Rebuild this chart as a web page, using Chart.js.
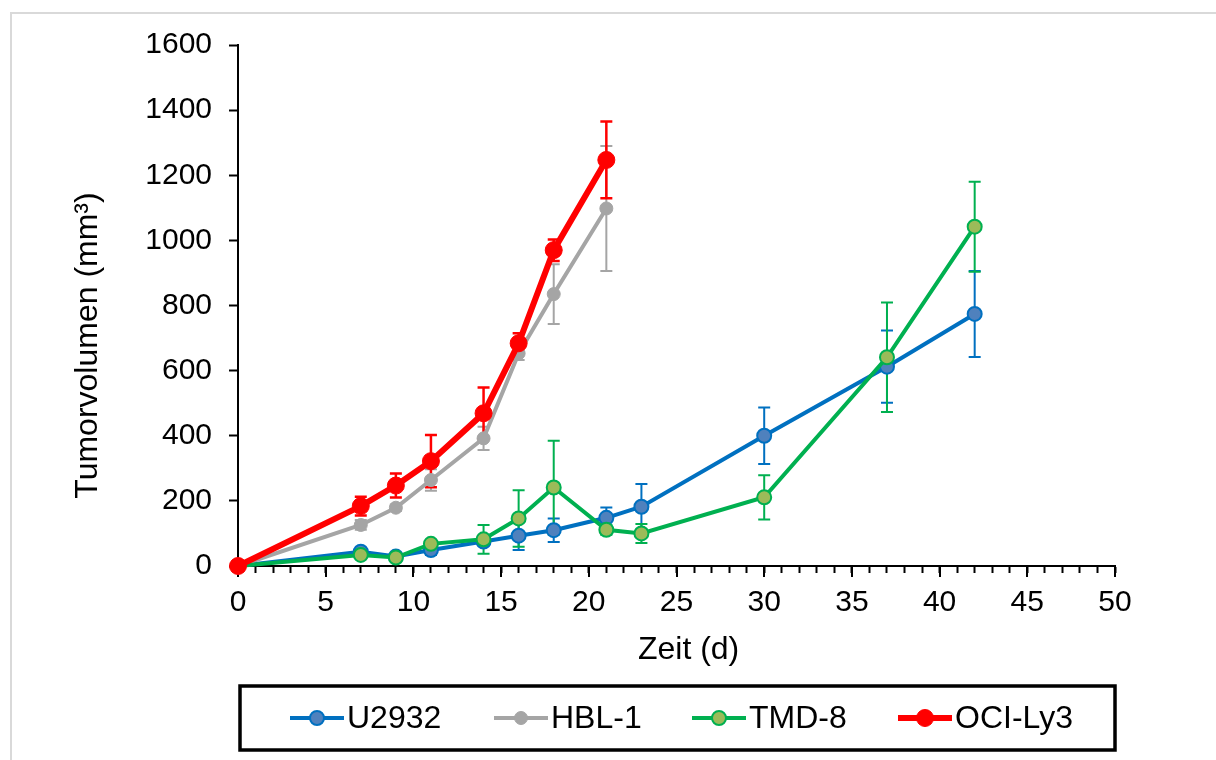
<!DOCTYPE html>
<html>
<head>
<meta charset="utf-8">
<script src="https://cdn.jsdelivr.net/npm/chart.js@4/dist/chart.umd.min.js"></script>
<style>
  html, body { margin: 0; padding: 0; background: #fff; }
  #wrap { position: relative; width: 1216px; height: 760px; overflow: hidden; }
  #frame { position: absolute; left: 10px; top: 12px; width: 1300px; height: 900px; border-left: 2px solid #d9d9d9; border-top: 2px solid #d9d9d9; }
  canvas { position: absolute; left: 0; top: 0; }
</style>
</head>
<body>
<div id="wrap">
  <div id="frame"></div>
  <canvas id="c" width="1216" height="760"></canvas>
</div>
<script>
// ---- data ----
const daysLong  = [0, 7, 9, 11, 14, 16, 18, 21, 23, 30, 37, 42];
const daysShort = [0, 7, 9, 11, 14, 16, 18, 21];

const u2932Mean = [0, 44, 29, 49, 75, 93, 110, 148, 182, 400, 612, 774];
const u2932Err  = [0, 8, 6, 15, 12, 44, 36, 32, 70, 87, 111, 132];

const hbl1Mean  = [0, 126, 179, 264, 392, 653, 835, 1098];
const hbl1Err   = [0, 15, 10, 33, 36, 20, 92, 192];

const tmd8Mean  = [0, 34, 26, 68, 82, 146, 241, 111, 100, 211, 641, 1042];
const tmd8Err   = [0, 6, 5, 10, 44, 87, 144, 15, 29, 68, 168, 138];

const ocily3Mean = [0, 184, 247, 322, 469, 684, 970, 1247];
const ocily3Err  = [0, 29, 37, 80, 79, 31, 33, 118];

const seriesNames = ['U2932', 'HBL-1', 'TMD-8', 'OCI-Ly3'];
const yTicks = [0, 200, 400, 600, 800, 1000, 1200, 1400, 1600];
const xLabelStep = 5;

const FONT = "'Liberation Sans', Arial, sans-serif";
const NB = '\u00A0';

function pts(days, vals) { return days.map((d, i) => ({ x: d, y: vals[i] })); }

const styles = [
  { line: '#0070C0', fill: '#4F81BD', r: 7,   lw: 4, bw: 2, ew: 2 },
  { line: '#A5A5A5', fill: '#A5A5A5', r: 6.5, lw: 4, bw: 1, ew: 2 },
  { line: '#00B050', fill: '#9BBB59', r: 7,   lw: 4, bw: 2, ew: 2 },
  { line: '#FF0000', fill: '#FF0000', r: 8.5, lw: 6, bw: 1, ew: 2.5 }
];

const seriesData = [
  { days: daysLong,  mean: u2932Mean,  err: u2932Err },
  { days: daysShort, mean: hbl1Mean,   err: hbl1Err },
  { days: daysLong,  mean: tmd8Mean,   err: tmd8Err },
  { days: daysShort, mean: ocily3Mean, err: ocily3Err }
];

const datasets = seriesData.map((s, i) => ({
  label: seriesNames[i],
  data: pts(s.days, s.mean),
  errors: s.err,
  borderColor: styles[i].line,
  backgroundColor: styles[i].fill,
  borderWidth: styles[i].lw,
  pointRadius: styles[i].r,
  pointHoverRadius: styles[i].r,
  pointBackgroundColor: styles[i].fill,
  pointBorderColor: styles[i].line,
  pointBorderWidth: styles[i].bw,
  tension: 0,
  clip: false,
  order: 4 - i
}));

const errorBars = {
  id: 'errorBars',
  beforeDatasetsDraw(chart) {
    const ctx = chart.ctx;
    const xs = chart.scales.x, ys = chart.scales.y;
    chart.data.datasets.forEach((ds, i) => {
      ctx.save();
      ctx.strokeStyle = ds.borderColor;
      ctx.lineWidth = styles[i].ew;
      ds.data.forEach((p, j) => {
        const e = ds.errors[j];
        if (!e) return;
        const px = xs.getPixelForValue(p.x);
        const top = ys.getPixelForValue(p.y + e);
        const bot = ys.getPixelForValue(p.y - e);
        ctx.beginPath();
        ctx.moveTo(px, top); ctx.lineTo(px, bot);
        ctx.moveTo(px - 6, top); ctx.lineTo(px + 6, top);
        ctx.moveTo(px - 6, bot); ctx.lineTo(px + 6, bot);
        ctx.stroke();
      });
      ctx.restore();
    });
  }
};

const majorTicks = {
  id: 'majorTicks',
  beforeDatasetsDraw(chart) {
    const ctx = chart.ctx, xs = chart.scales.x;
    const y0 = chart.chartArea.bottom;
    ctx.save();
    ctx.strokeStyle = '#000';
    ctx.lineWidth = 2;
    for (let v = xs.min; v <= xs.max; v += xLabelStep) {
      const px = Math.round(xs.getPixelForValue(v));
      ctx.beginPath(); ctx.moveTo(px, y0); ctx.lineTo(px, y0 + 11); ctx.stroke();
    }
    ctx.restore();
  }
};

const boxLegend = {
  id: 'boxLegend',
  afterDraw(chart) {
    const ctx = chart.ctx;
    ctx.save();
    ctx.strokeStyle = '#000';
    ctx.lineWidth = 3.5;
    ctx.strokeRect(240, 686, 875, 64);
    const starts = [290, 494, 692, 898];
    const cy = 718;
    ctx.font = '32px ' + FONT;
    ctx.textBaseline = 'middle';
    ctx.fillStyle = '#000';
    chart.data.datasets.forEach((ds, i) => {
      const x0 = starts[i];
      ctx.strokeStyle = ds.borderColor;
      ctx.lineWidth = styles[i].lw;
      ctx.beginPath(); ctx.moveTo(x0, cy); ctx.lineTo(x0 + 54, cy); ctx.stroke();
      ctx.beginPath(); ctx.arc(x0 + 27, cy, styles[i].r, 0, Math.PI * 2);
      ctx.fillStyle = styles[i].fill; ctx.fill();
      ctx.lineWidth = styles[i].bw; ctx.strokeStyle = ds.borderColor; ctx.stroke();
      ctx.fillStyle = '#000';
      ctx.fillText(ds.label, x0 + 57, cy + 1);
    });
    ctx.restore();
  }
};

new Chart(document.getElementById('c'), {
  type: 'line',
  data: { datasets },
  plugins: [errorBars, majorTicks, boxLegend],
  options: {
    responsive: false,
    animation: false,
    events: [],
    layout: { padding: { left: 69, top: 45, right: 101, bottom: 90.8 } },
    plugins: { legend: { display: false }, tooltip: { enabled: false } },
    scales: {
      x: {
        type: 'linear',
        min: 0, max: 50,
        afterFit(s) { s.height = 103.2; },
        border: { color: '#000', width: 2 },
        grid: { drawOnChartArea: false, drawTicks: true, tickLength: 7, tickColor: '#000', tickWidth: 2 },
        ticks: {
          stepSize: 1, autoSkip: false, maxRotation: 0, padding: 12,
          color: '#000', font: { family: FONT, size: 30 },
          callback: v => (v % xLabelStep === 0 ? String(v) : '')
        },
        title: { display: true, text: NB + NB + '\u2009' + 'Zeit (d)', color: '#000', font: { family: FONT, size: 32 }, padding: { top: 0, bottom: 0 } }
      },
      y: {
        type: 'linear',
        min: yTicks[0], max: yTicks[yTicks.length - 1],
        afterFit(s) { s.width = 238 - 69; },
        afterBuildTicks(s) { s.ticks = yTicks.map(v => ({ value: v })); },
        border: { color: '#000', width: 2 },
        grid: { drawOnChartArea: false, drawTicks: true, tickLength: 9, tickColor: '#000', tickWidth: 2 },
        ticks: { padding: 17, color: '#000', font: { family: FONT, size: 30 }, callback: v => String(v) },
        title: { display: true, text: 'Tumorvolumen (mm³)' + NB.repeat(9), color: '#000', font: { family: FONT, size: 32 }, padding: { top: 0, bottom: 0 } }
      }
    }
  }
});
</script>
</body>
</html>
